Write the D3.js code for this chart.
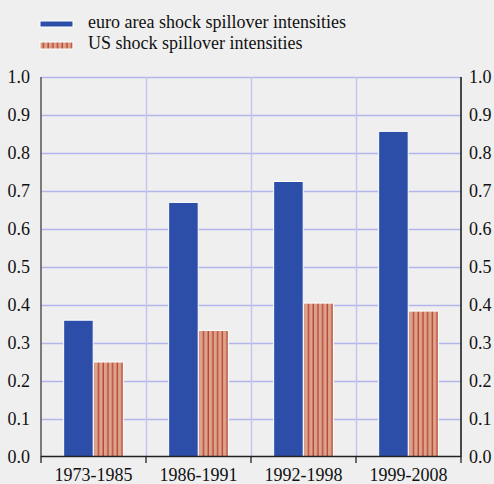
<!DOCTYPE html>
<html>
<head>
<meta charset="utf-8">
<script src="https://cdn.jsdelivr.net/npm/d3@7"></script>
<style>
  html, body { margin: 0; padding: 0; background: #efefef; }
  svg { display: block; }
  text { font-family: "Liberation Serif", "Times New Roman", serif; fill: #111; }
</style>
</head>
<body>
<script>
const categories = ["1973-1985", "1986-1991", "1992-1998", "1999-2008"];
const seriesNames = ["euro area shock spillover intensities", "US shock spillover intensities"];
const euroValues = [0.36, 0.67, 0.725, 0.857];
const usValues = [0.25, 0.333, 0.405, 0.384];
const yTicks = [0.0, 0.1, 0.2, 0.3, 0.4, 0.5, 0.6, 0.7, 0.8, 0.9, 1.0];

const W = 494, H = 484;
const pLeft = 41, pRight = 461, pTop = 77, pBottom = 457;

const svg = d3.select("body").append("svg").attr("width", W).attr("height", H);
svg.append("rect").attr("width", W).attr("height", H).attr("fill", "#efefef");

const defs = svg.append("defs");
const pat = defs.append("pattern").attr("id", "usPat").attr("patternUnits", "userSpaceOnUse")
  .attr("width", 4.7).attr("height", 10);
pat.append("rect").attr("width", 4.7).attr("height", 10).attr("fill", "#dca28b");
pat.append("rect").attr("x", 0.6).attr("width", 1.1).attr("height", 10).attr("fill", "#b0301f");

const x = d3.scaleBand().domain(categories).range([pLeft, pRight]).padding(0);
const bw = x.bandwidth();
const xs = d3.scaleBand().domain(seriesNames).range([bw * 0.21, bw * 0.79]).padding(0.02);
const y = d3.scaleLinear().domain([0, 1]).range([pBottom, pTop]);

// gridlines
const g = svg.append("g");
g.selectAll("line.h").data(yTicks.filter(t => t > 0)).enter().append("line")
  .attr("x1", pLeft).attr("x2", pRight)
  .attr("y1", d => Math.round(y(d)) + 0.5).attr("y2", d => Math.round(y(d)) + 0.5)
  .attr("stroke", "#b2b6ea").attr("stroke-width", 1.5);
g.selectAll("line.v").data(categories.slice(1)).enter().append("line")
  .attr("x1", d => Math.round(x(d)) + 0.5).attr("x2", d => Math.round(x(d)) + 0.5)
  .attr("y1", pTop).attr("y2", pBottom)
  .attr("stroke", "#c4c6ee").attr("stroke-width", 1.5);

// bars
const data = categories.map((c, i) => ({c, vals: [
  {s: seriesNames[0], v: euroValues[i], fill: "#2c4ea8"},
  {s: seriesNames[1], v: usValues[i], fill: "url(#usPat)"}
]}));
const cg = svg.selectAll("g.cat").data(data).enter().append("g")
  .attr("transform", d => `translate(${x(d.c)},0)`);
cg.selectAll("rect").data(d => d.vals).enter().append("rect")
  .attr("x", d => xs(d.s)).attr("width", xs.bandwidth())
  .attr("y", d => y(d.v)).attr("height", d => y(0) - y(d.v))
  .attr("fill", d => d.fill).attr("stroke", "#ffffff").attr("stroke-width", 1);

// axes
svg.append("line").attr("x1", pLeft).attr("x2", pLeft).attr("y1", pTop).attr("y2", pBottom)
  .attr("stroke", "#555").attr("stroke-width", 1.5);
svg.append("line").attr("x1", pRight).attr("x2", pRight).attr("y1", pTop).attr("y2", pBottom)
  .attr("stroke", "#111").attr("stroke-width", 1.5);
svg.append("line").attr("x1", pLeft).attr("x2", pRight).attr("y1", pBottom - 0.5).attr("y2", pBottom - 0.5)
  .attr("stroke", "#222").attr("stroke-width", 1.3);
const bounds = categories.map(c => x(c)).concat([pRight]);
svg.selectAll("line.tk").data(bounds).enter().append("line")
  .attr("x1", d => d).attr("x2", d => d).attr("y1", pBottom - 0.5).attr("y2", pBottom + 6)
  .attr("stroke", "#222").attr("stroke-width", 1.3);

// y labels
svg.selectAll("text.yl").data(yTicks).enter().append("text")
  .attr("x", 30).attr("y", d => y(d)).attr("dy", "0.35em")
  .attr("text-anchor", "end").attr("font-size", 18).text(d => d.toFixed(1));
svg.selectAll("text.yr").data(yTicks).enter().append("text")
  .attr("x", 469).attr("y", d => y(d)).attr("dy", "0.35em")
  .attr("text-anchor", "start").attr("font-size", 18).text(d => d.toFixed(1));

// x labels
svg.selectAll("text.xl").data(categories).enter().append("text")
  .attr("x", d => x(d) + bw / 2).attr("y", 481)
  .attr("text-anchor", "middle").attr("font-size", 18).text(d => d);

// legend
const lg = svg.append("g");
lg.append("rect").attr("x", 40).attr("y", 21).attr("width", 33).attr("height", 6).attr("fill", "#2c4ea8")
  .attr("stroke", "#fff").attr("stroke-width", 1);
lg.append("rect").attr("x", 40).attr("y", 42).attr("width", 33).attr("height", 7).attr("fill", "url(#usPat)")
  .attr("stroke", "#fff").attr("stroke-width", 1);
lg.append("text").attr("x", 88).attr("y", 28).attr("font-size", 18).text(seriesNames[0]);
lg.append("text").attr("x", 88).attr("y", 49).attr("font-size", 18).text(seriesNames[1]);
</script>
</body>
</html>
